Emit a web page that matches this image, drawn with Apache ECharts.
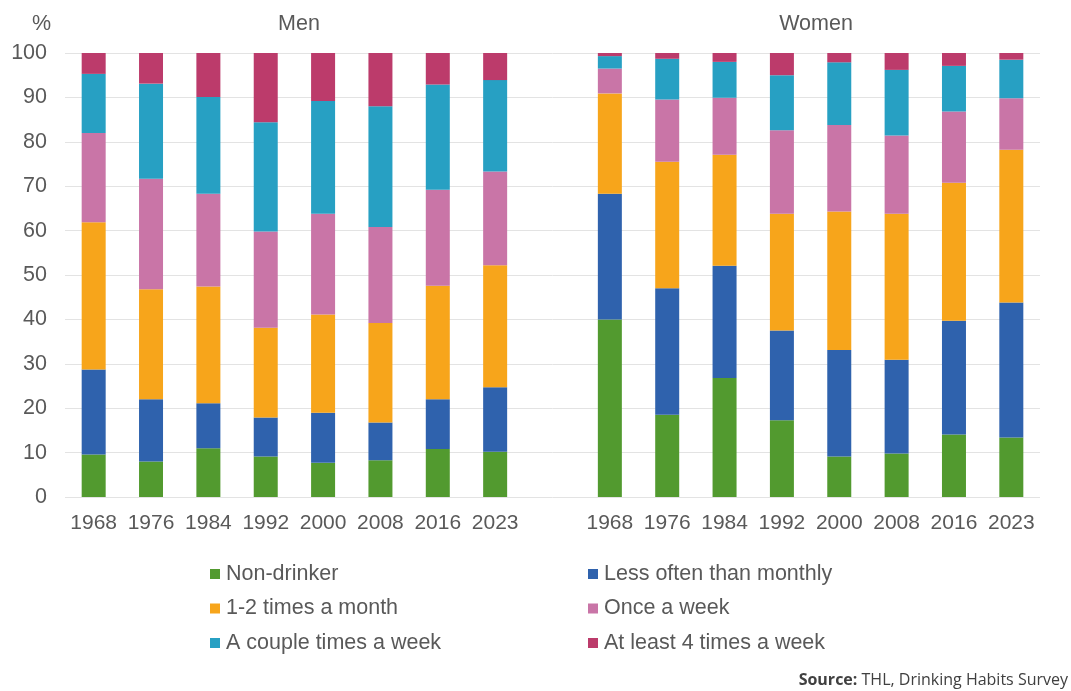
<!DOCTYPE html>
<html>
<head>
<meta charset="utf-8">
<script src="https://cdn.jsdelivr.net/npm/echarts@6/dist/echarts.min.js"></script>
<style>html,body{margin:0;padding:0;background:#fff}#c{width:1071px;height:691px}</style>
</head>
<body>
<div id="c"></div>
<script>
const years = ['1968','1976','1984','1992','2000','2008','2016','2023'];
const seriesNames = ['Non-drinker','Less often than monthly','1-2 times a month','Once a week','A couple times a week','At least 4 times a week'];
// Men
const menNon    = [9.6, 8.0, 11.0, 9.1, 7.7, 8.3, 10.8, 10.2];
const menLess   = [19.1, 14.0, 10.1, 8.8, 11.3, 8.5, 11.2, 14.5];
const menMonth  = [33.2, 24.8, 26.3, 20.2, 22.1, 22.4, 25.6, 27.5];
const menOnce   = [20.1, 24.9, 20.9, 21.7, 22.7, 21.6, 21.6, 21.1];
const menCouple = [13.3, 21.4, 21.8, 24.6, 25.4, 27.2, 23.7, 20.6];
const menFour   = [4.7, 6.9, 9.9, 15.6, 10.8, 12.0, 7.1, 6.1];
// Women
const womNon    = [40.0, 18.5, 26.8, 17.3, 9.1, 9.8, 14.1, 13.4];
const womLess   = [28.3, 28.5, 25.3, 20.2, 24.0, 21.1, 25.6, 30.4];
const womMonth  = [22.6, 28.5, 25.0, 26.3, 31.2, 32.9, 31.1, 34.4];
const womOnce   = [5.6, 14.0, 12.8, 18.8, 19.5, 17.6, 16.0, 11.6];
const womCouple = [2.8, 9.2, 8.1, 12.4, 14.1, 14.8, 10.3, 8.7];
const womFour   = [0.7, 1.3, 2.0, 5.0, 2.1, 3.8, 2.9, 1.5];

const colors = ['#529a2f','#2f62ad','#f7a51b','#c975a7','#27a0c3','#bc3b6b'];
const menData = [menNon, menLess, menMonth, menOnce, menCouple, menFour];
const womData = [womNon, womLess, womMonth, womOnce, womCouple, womFour];

const categories = years.concat(['']).concat(years);

const series = seriesNames.map((n, i) => ({
  name: n,
  type: 'bar',
  stack: 'all',
  barWidth: 24,
  itemStyle: {color: colors[i]},
  data: menData[i].concat(['-']).concat(womData[i])
}));

const chart = echarts.init(document.getElementById('c'));
const font = 'Liberation Sans, Arial, sans-serif';
const txt = '#595959';
chart.setOption({
  animation: false,
  color: colors,
  grid: {left: 65, right: 31, top: 53, bottom: 194},
  xAxis: {
    type: 'category',
    data: categories,
    axisLine: {show: false},
    axisTick: {show: false},
    axisLabel: {interval: 0, color: txt, fontSize: 21, fontFamily: font, margin: 16}
  },
  yAxis: {
    type: 'value',
    min: 0, max: 100, interval: 10,
    axisLine: {show: false},
    axisTick: {show: false},
    splitLine: {lineStyle: {color: '#e3e3e3', width: 1}},
    axisLabel: {color: txt, fontSize: 21.5, fontFamily: font, margin: 18}
  },
  title: [
    {text: 'Men', left: 294, top: 8, textAlign: 'center', textStyle: {color: txt, fontSize: 21.5, fontWeight: 'normal', fontFamily: font}},
    {text: 'Women', left: 811, top: 8, textAlign: 'center', textStyle: {color: txt, fontSize: 21.5, fontWeight: 'normal', fontFamily: font}},
    {text: '%', left: 27, top: 8, textStyle: {color: txt, fontSize: 21.5, fontWeight: 'normal', fontFamily: font}}
  ],
  legend: [
    {
      orient: 'vertical', left: 205, top: 558, itemGap: 12.5,
      itemWidth: 10, itemHeight: 10, icon: 'rect',
      data: [seriesNames[0], seriesNames[2], seriesNames[4]],
      textStyle: {color: txt, fontSize: 21.5, fontFamily: font, padding: [0,0,0,1]}
    },
    {
      orient: 'vertical', left: 583, top: 558, itemGap: 12.5,
      itemWidth: 10, itemHeight: 10, icon: 'rect',
      data: [seriesNames[1], seriesNames[3], seriesNames[5]],
      textStyle: {color: txt, fontSize: 21.5, fontFamily: font, padding: [0,0,0,1]}
    }
  ],
  graphic: [{
    type: 'text', right: 3, top: 672,
    style: {
      text: '{b|Source:} THL, Drinking Habits Survey',
      rich: {b: {fontWeight: 'bold', fontSize: 16, fill: '#404040', fontFamily: 'Open Sans, sans-serif'}},
      fontSize: 16, fill: '#404040', fontFamily: 'Open Sans, sans-serif'
    }
  }],
  series: series
});
</script>
</body>
</html>
